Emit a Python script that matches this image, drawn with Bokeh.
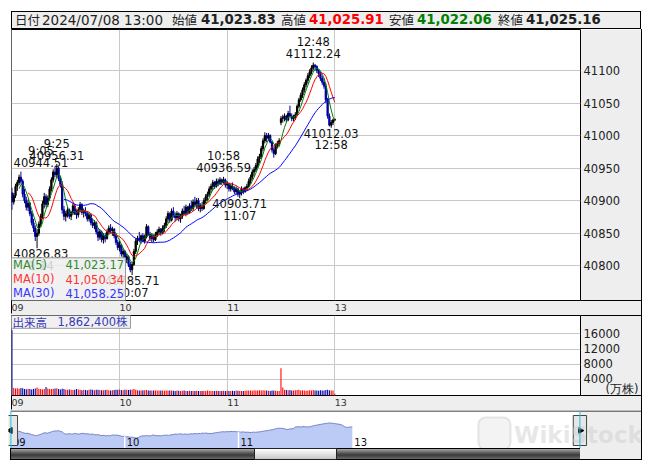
import numpy as np
import pandas as pd
from bokeh.plotting import figure
from bokeh.models import Range1d, FixedTicker, ColumnDataSource, BoxAnnotation, Span, Div
from bokeh.layouts import column, row
from bokeh.embed import file_html
from bokeh.resources import INLINE
from bokeh.core.properties import value

# ---------------- data ----------------
hour_ticks = [0, 60, 120, 180]          # trading-minute index of 09:00, 10:00, 11:00, 13:00
hour_labels = ["09", "10", "11", "13"]

opens = [40912, 40898, 40908, 40922, 40928, 40936, 40930, 40910, 40900, 40890,
         40896, 40880, 40866, 40858, 40845, 40850, 40864, 40876, 40895, 40906,
         40894, 40904, 40918, 40932, 40944, 40940, 40950, 40934, 40925, 40886,
         40876, 40880, 40886, 40876, 40882, 40892, 40880, 40878, 40886, 40894,
         40882, 40884, 40880, 40872, 40878, 40866, 40862, 40866, 40852, 40844,
         40852, 40840, 40846, 40842, 40852, 40858, 40854, 40856, 40846, 40836,
         40828, 40832, 40818, 40822, 40810, 40814, 40802, 40794, 40802, 40822,
         40838, 40842, 40840, 40846, 40838, 40844, 40860, 40848, 40842, 40846,
         40840, 40848, 40852, 40856, 40850, 40858, 40862, 40872, 40880, 40870,
         40884, 40878, 40874, 40880, 40872, 40876, 40884, 40880, 40890, 40882,
         40892, 40888, 40898, 40894, 40900, 40888, 40892, 40888, 40900, 40906,
         40910, 40918, 40922, 40928, 40922, 40930, 40926, 40932, 40928, 40932,
         40924, 40926, 40918, 40922, 40920, 40914, 40918, 40910, 40912, 40918,
         40914, 40920, 40922, 40930, 40936, 40944, 40948, 40954, 40964, 40968,
         40980, 40992, 41000, 40996, 41000, 40990, 40978, 40972, 40984, 40988,
         41020, 41026, 41028, 41030, 41024, 41034, 41030, 41026, 41028, 41032,
         41045, 41055, 41062, 41070, 41078, 41085, 41092, 41098, 41104, 41108,
         41106, 41100, 41095, 41088, 41082, 41076, 41055, 41030, 41016, 41020,
         41023.83]
highs = [40920, 40912, 40926, 40932, 40940, 40944.51, 40933, 40918, 40906, 40902,
         40898, 40884, 40872, 40862, 40856, 40868, 40880, 40900, 40912, 40910,
         40908, 40922, 40936, 40948, 40952, 40956.31, 40952, 40938, 40930, 40892,
         40884, 40890, 40888, 40884, 40896, 40895, 40886, 40890, 40898, 40896,
         40888, 40890, 40884, 40882, 40880, 40872, 40870, 40868, 40858, 40856,
         40854, 40850, 40850, 40856, 40862, 40864, 40860, 40858, 40850, 40840,
         40838, 40834, 40826, 40824, 40818, 40816, 40806, 40806, 40826, 40842,
         40846, 40852, 40848, 40850, 40848, 40864, 40862, 40852, 40850, 40848,
         40852, 40856, 40860, 40858, 40862, 40866, 40876, 40884, 40882, 40888,
         40890, 40882, 40884, 40882, 40880, 40888, 40892, 40894, 40892, 40896,
         40900, 40902, 40906, 40904, 40904, 40896, 40898, 40904, 40910, 40914,
         40922, 40926, 40932, 40930, 40934, 40934, 40936, 40934, 40936.59, 40934,
         40930, 40928, 40926, 40928, 40922, 40922, 40920, 40916, 40922, 40920,
         40922, 40926, 40934, 40940, 40948, 40952, 40958, 40968, 40972, 40984,
         40996, 41005, 41004, 41004, 41002, 40992, 40982, 40988, 40992, 40996,
         41030, 41032, 41034, 41032, 41038, 41046, 41034, 41032, 41036, 41048,
         41058, 41066, 41074, 41082, 41088, 41096, 41102, 41108, 41112.24, 41110,
         41108, 41102, 41098, 41092, 41088, 41080, 41058, 41034, 41024, 41026,
         41025.91]
lows = [40886, 40894, 40904, 40915, 40924, 40926, 40905, 40896, 40885, 40884,
        40876, 40862, 40852, 40838, 40826.83, 40846, 40860, 40872, 40888, 40890,
        40890, 40900, 40914, 40928, 40936, 40936, 40930, 40920, 40880, 40870,
        40868, 40874, 40872, 40870, 40878, 40878, 40872, 40874, 40882, 40878,
        40874, 40876, 40868, 40868, 40862, 40858, 40856, 40848, 40838, 40840,
        40836, 40834, 40836, 40840, 40848, 40850, 40846, 40842, 40832, 40824,
        40822, 40814, 40812, 40806, 40804, 40798, 40790, 40785.71, 40800, 40818,
        40832, 40836, 40834, 40836, 40834, 40842, 40846, 40838, 40836, 40836,
        40838, 40844, 40848, 40846, 40848, 40852, 40858, 40866, 40866, 40868,
        40874, 40868, 40870, 40868, 40866, 40872, 40878, 40876, 40878, 40880,
        40884, 40884, 40890, 40888, 40884, 40882, 40884, 40886, 40896, 40900,
        40906, 40912, 40916, 40918, 40920, 40922, 40924, 40924, 40926, 40920,
        40918, 40914, 40914, 40916, 40910, 40910, 40906, 40903.71, 40908, 40910,
        40912, 40916, 40920, 40926, 40932, 40938, 40944, 40950, 40958, 40964,
        40976, 40988, 40990, 40992, 40988, 40974, 40966, 40970, 40980, 40984,
        41016, 41020, 41022, 41020, 41022, 41028, 41022, 41022, 41024, 41030,
        41042, 41052, 41058, 41066, 41074, 41080, 41088, 41094, 41100, 41100,
        41096, 41090, 41084, 41078, 41072, 41050, 41026, 41014, 41012.03, 41016,
        41022.06]
closes = [40898, 40908, 40922, 40928, 40936, 40930, 40910, 40900, 40890, 40896,
          40880, 40866, 40858, 40845, 40850, 40864, 40876, 40895, 40906, 40894,
          40904, 40918, 40932, 40944, 40940, 40950, 40934, 40925, 40886, 40876,
          40880, 40886, 40876, 40882, 40892, 40880, 40878, 40886, 40894, 40882,
          40884, 40880, 40872, 40878, 40866, 40862, 40866, 40852, 40844, 40852,
          40840, 40846, 40842, 40852, 40858, 40854, 40856, 40846, 40836, 40828,
          40832, 40818, 40822, 40810, 40814, 40802, 40794, 40802, 40822, 40838,
          40842, 40840, 40846, 40838, 40844, 40860, 40848, 40842, 40846, 40840,
          40848, 40852, 40856, 40850, 40858, 40862, 40872, 40880, 40870, 40884,
          40878, 40874, 40880, 40872, 40876, 40884, 40880, 40890, 40882, 40892,
          40888, 40898, 40894, 40900, 40888, 40892, 40888, 40900, 40906, 40910,
          40918, 40922, 40928, 40922, 40930, 40926, 40932, 40928, 40932, 40924,
          40926, 40918, 40922, 40920, 40914, 40918, 40910, 40912, 40918, 40914,
          40920, 40922, 40930, 40936, 40944, 40948, 40954, 40964, 40968, 40980,
          40992, 41000, 40996, 41000, 40990, 40978, 40972, 40984, 40988, 40992,
          41026, 41028, 41030, 41024, 41034, 41030, 41026, 41028, 41032, 41045,
          41055, 41062, 41070, 41078, 41085, 41092, 41098, 41104, 41108, 41106,
          41100, 41095, 41088, 41082, 41076, 41055, 41030, 41016, 41020, 41024,
          41025.16]
volumes = [17000, 1700, 1550, 1650, 1500, 1700, 1600, 1400, 1350, 1500,
           1450, 1300, 1400, 1550, 1800, 1500, 1400, 1300, 1450, 1950,
           1550, 1450, 1400, 1500, 1550, 1650, 1400, 1300, 1500, 1400,
           1250, 1200, 1300, 1200, 1150, 1250, 1400, 1300, 1200, 1100,
           1200, 1150, 1100, 1250, 1300, 1200, 1100, 1200, 1250, 1150,
           1100, 1100, 1150, 1200, 1100, 1050, 1100, 1150, 1250, 1200,
           1300, 1150, 1100, 1200, 1250, 1150, 1250, 1300, 1400, 1200,
           1100, 1050, 1000, 1100, 1100, 1150, 1050, 1000, 1000, 1000,
           1000, 1000, 1050, 1000, 1000, 950, 1000, 1050, 1000, 1000,
           950, 900, 1000, 950, 900, 950, 1000, 900, 880, 950,
           900, 880, 900, 950, 900, 880, 900, 950, 900, 1000,
           950, 900, 880, 900, 950, 900, 880, 900, 950, 900,
           950, 900, 880, 950, 900, 1000, 950, 900, 880, 900,
           950, 1000, 1050, 1000, 950, 1100, 1000, 1050, 1100, 1000,
           1100, 1050, 1000, 950, 900, 1000, 1050, 950, 900, 880,
           6900, 1850, 1250, 1150, 1100, 1150, 1050, 1000, 1100, 1150,
           1200, 1050, 1100, 1000, 950, 1050, 1100, 1000, 1150, 1050,
           1000, 950, 1100, 1050, 1000, 1150, 1200, 1100, 1050, 1000,
           186.24]

price_ticks = [40800, 40850, 40900, 40950, 41000, 41050, 41100]
volume_ticks = [4000, 8000, 12000, 16000]

mark_idx = [5, 14, 25, 67, 118, 127, 168, 178]
mark_time = ["9:05", "9:14", "9:25", "10:07", "10:58", "11:07", "12:48", "12:58"]
mark_value = [40944.51, 40826.83, 40956.31, 40785.71, 40936.59, 40903.71, 41112.24, 41012.03]
mark_is_high = [True, False, True, False, True, False, True, False]

ma_windows = [5, 10, 30]
ma_names = ["MA(5)", "MA(10)", "MA(30)"]
ma_last = ["41,023.17", "41,050.34", "41,058.25"]

header_labels = ["日付", "始値", "高値", "安値", "終値"]
header_stamp = "2024/07/08 13:00"
header_values = ["41,023.83", "41,025.91", "41,022.06", "41,025.16"]
volume_title = "出来高"
volume_last = "1,862,400株"
volume_unit = "(万株)"
watermark = "WikiStock"

# ---------------- geometry / style ----------------
FONT = "DejaVu Sans"
JFONT = "DejaVu Sans, Noto Sans CJK JP"
GRAY = "#eeeeee"
GRID = "#c8c8c8"
UP_C, DN_C = "#000000", "#0000a0"
VUP_C, VDN_C = "#ff0000", "#0000a0"
MA_C = ["#008000", "#ff0000", "#0000ff"]
MA_TXT = ["#2e8b2e", "#ff3030", "#3535ff"]
FRAME_W, RIGHT_W = 569, 61
MAIN_H, BAND_H = 273, 13
VOL_H, VBAND_H = 81, 14
NAV_W, NAV_H = 633, 38
NB = "\u00a0"

XS = -0.25
XE = XS + FRAME_W / 1.7935
YS, YE = 40746.6, 41163.0
VYS, VYE = -300.0, 20900.0
XPX = FRAME_W / (XE - XS)
YPX = MAIN_H / (YE - YS)
VPX = VOL_H / (VYE - VYS)
UNIT_POS = VYS + 7 / VPX          # where the unit caption sits on the volume axis

x = np.arange(len(closes))
o = np.array(opens, float); h = np.array(highs, float)
l = np.array(lows, float); c = np.array(closes, float)
up = c >= o
src = ColumnDataSource(dict(
    x=x, h=h, l=l, c=c,
    top=np.maximum(o, c), bot=np.minimum(o, c),
    candle_color=np.where(up, UP_C, DN_C),
    vol_color=np.where(up, VUP_C, VDN_C),
    vol=np.array(volumes, float)))


def style_x_axis(fig, tick_out):
    ax = fig.xaxis[0]
    ax.ticker = FixedTicker(ticks=hour_ticks, minor_ticks=[XS])
    ax.major_label_overrides = {t: (s if t == hour_ticks[0] else NB * 4 + s)
                                for t, s in zip(hour_ticks, hour_labels)}
    ax.major_tick_out = 0
    ax.major_tick_in = 0
    ax.minor_tick_in = 0
    ax.minor_tick_out = tick_out
    ax.minor_tick_line_color = "black"
    ax.axis_line_color = None
    ax.major_label_standoff = -tick_out + 1
    ax.major_label_text_font = FONT
    ax.major_label_text_font_size = "9.5px"
    ax.major_label_text_color = "#333333"


def style_y_axis(fig, ticks, minors, overrides=None):
    ay = fig.yaxis[0]
    ay.ticker = FixedTicker(ticks=ticks, minor_ticks=minors)
    if overrides:
        ay.major_label_overrides = overrides
    ay.major_tick_out = 0
    ay.major_tick_in = 0
    ay.minor_tick_in = 0
    ay.minor_tick_out = RIGHT_W
    ay.minor_tick_line_color = "black"
    ay.axis_line_color = None
    ay.major_label_standoff = -RIGHT_W + 3
    ay.major_label_text_font = FONT
    ay.major_label_text_font_size = "11.5px"
    ay.major_label_text_color = "#222222"


# ---------------- header ----------------
hdr_runs = [
    (header_labels[0], 3, "'Noto Sans CJK JP'", "12.5px", "normal", "#222"),
    (header_stamp, 30, "'DejaVu Sans'", "13.5px", "normal", "#222"),
    (header_labels[1], 160, "'Noto Sans CJK JP'", "12.5px", "normal", "#222"),
    (header_values[0], 189, "'DejaVu Sans'", "13.3px", "bold", "#222"),
    (header_labels[2], 269, "'Noto Sans CJK JP'", "12.5px", "normal", "#222"),
    (header_values[1], 297, "'DejaVu Sans'", "13.3px", "bold", "#ff0000"),
    (header_labels[3], 377, "'Noto Sans CJK JP'", "12.5px", "normal", "#222"),
    (header_values[2], 405, "'DejaVu Sans'", "13.3px", "bold", "#008000"),
    (header_labels[4], 486, "'Noto Sans CJK JP'", "12.5px", "normal", "#222"),
    (header_values[3], 514, "'DejaVu Sans'", "13.3px", "bold", "#222"),
]
hdr_html = ('<div style="position:relative;box-sizing:border-box;width:630px;height:18px;'
            'border:1px solid #000;background:' + GRAY + ';overflow:hidden;">')
for t, lx, ff, fs, fw, col in hdr_runs:
    hdr_html += ('<span style="position:absolute;left:' + str(lx) + 'px;top:0;line-height:16px;'
                 'white-space:nowrap;font-family:' + ff + ';font-size:' + fs + ';font-weight:' + fw +
                 ';color:' + col + ';">' + t + '</span>')
hdr_html += '</div>'
header = Div(text=hdr_html, width=630, height=18, margin=(11, 0, 0, 11), sizing_mode="fixed")

# ---------------- main price chart ----------------
p = figure(width=FRAME_W + RIGHT_W, height=MAIN_H + BAND_H,
           x_range=Range1d(XS, XE), y_range=Range1d(YS, YE),
           y_axis_location="right", output_backend="svg", toolbar_location=None, tools="",
           min_border_left=0, min_border_right=RIGHT_W, min_border_top=0, min_border_bottom=BAND_H,
           border_fill_color=GRAY, background_fill_color="white",
           outline_line_color="black", margin=(0, 0, 0, 3), frame_align=False,
           sizing_mode="fixed")
style_x_axis(p, BAND_H)
style_y_axis(p, price_ticks, [YS])
p.grid.grid_line_color = GRID

p.segment(x0="x", y0="h", x1="x", y1="l", source=src, line_color="candle_color", line_width=1)
p.vbar(x="x", width=0.7, top="top", bottom="bot", source=src,
       fill_color="candle_color", line_color="candle_color", line_width=1)
for w, col in zip(ma_windows, MA_C):
    ma = pd.Series(closes).rolling(w).mean()
    p.line(x, ma.values, line_color=col, line_width=1)

# extreme-value marks
min_center = XS + 29.5 / XPX
mx = [max(i, min_center) for i in mark_idx]
mark_src = ColumnDataSource(dict(
    x=mx, y=mark_value,
    val=["%.2f" % v for v in mark_value], tm=mark_time,
    voff=[-9 if hi else 5.5 for hi in mark_is_high],
    toff=[-20.5 if hi else 17.5 for hi in mark_is_high]))
for fld, off in (("val", "voff"), ("tm", "toff")):
    p.text(x="x", y="y", text=fld, y_offset=off, source=mark_src,
           text_align="center", text_baseline="middle",
           text_font=value(FONT), text_font_size="11.5px", text_color="#111111")

# MA legend box
p.quad(left=XS, right=XS + 114 / XPX, bottom=YS, top=YS + 43 / YPX,
       fill_color=GRAY, fill_alpha=0.85, line_color="#9a9a9a")
leg_src = ColumnDataSource(dict(
    y=[YS + d / YPX for d in (36, 21.5, 7.5)],
    name=ma_names, val=ma_last, col=MA_TXT))
p.text(x=XS + 1.5 / XPX, y="y", text="name", text_color="col", source=leg_src,
       text_baseline="middle", text_font=value(FONT), text_font_size="11.5px")
p.text(x=XS + 54 / XPX, y="y", text="val", text_color="col", source=leg_src,
       text_baseline="middle", text_font=value(FONT), text_font_size="11.5px")

# ---------------- volume chart ----------------
v = figure(width=FRAME_W + RIGHT_W, height=VOL_H + VBAND_H,
           x_range=p.x_range, y_range=Range1d(VYS, VYE),
           y_axis_location="right", output_backend="svg", toolbar_location=None, tools="",
           min_border_left=0, min_border_right=RIGHT_W, min_border_top=0, min_border_bottom=VBAND_H,
           border_fill_color=GRAY, background_fill_color="white",
           outline_line_color="black", margin=(0, 0, 0, 3), frame_align=False,
           sizing_mode="fixed")
style_x_axis(v, VBAND_H)
style_y_axis(v, volume_ticks + [UNIT_POS], [VYS, VYE],
             overrides={UNIT_POS: NB * 6 + volume_unit})
v.ygrid.ticker = FixedTicker(ticks=volume_ticks)
v.grid.grid_line_color = GRID
v.vbar(x="x", width=0.6, top="vol", bottom=VYS, source=src,
       fill_color="vol_color", line_color=None)
v.quad(left=XS, right=XS + 119 / XPX, top=VYE, bottom=VYE - 13 / VPX,
       fill_color=GRAY, fill_alpha=0.9, line_color="#9a9a9a")
v.text(x=[XS + 1 / XPX], y=[VYE - 6.5 / VPX], text=[volume_title],
       text_baseline="middle", text_font=value("Noto Sans CJK JP"), text_font_size="11.5px",
       text_color="#3a3ab8")
v.text(x=[XS + 46 / XPX], y=[VYE - 6.5 / VPX], text=[volume_last],
       text_baseline="middle", text_font=value(JFONT), text_font_size="11.5px",
       text_color="#3a3ab8")

# ---------------- navigator ----------------
NXS = -2.4 / 1.8967
NXE = NXS + NAV_W / 1.8967
NYS, NYE = 40577.0, 41369.0
n = figure(width=NAV_W, height=NAV_H, x_range=Range1d(NXS, NXE), y_range=Range1d(NYS, NYE),
           x_axis_type=None, y_axis_type=None, output_backend="svg", toolbar_location=None,
           tools="", min_border=0, outline_line_color=None, background_fill_color="white",
           border_fill_color="white", margin=0, frame_align=False, sizing_mode="fixed")
n.grid.visible = False
n.extra_y_ranges = {"ui": Range1d(0, NAV_H)}
n.add_layout(BoxAnnotation(left=300, fill_color=GRAY, fill_alpha=1.0, line_color=None,
                           level="underlay"))
n.varea(x=x, y1=NYS, y2=c, fill_color="#bccaf6")
n.line(x, c, line_color="#7682c8", line_width=1)
sep = [t for t in hour_ticks[1:3]]
n.segment(x0=sep, x1=sep, y0=[NYS] * len(sep), y1=[closes[t] for t in sep],
          line_color="white", line_width=1.5)
n.text(x=hour_ticks, y=[6.5] * len(hour_ticks), text=hour_labels, x_offset=2,
       y_range_name="ui", text_baseline="middle", text_font=value(FONT),
       text_font_size="10px", text_color="#111111")
n.add_layout(Span(location=0, dimension="height", line_color="#22bfe0", line_width=1))
n.add_layout(Span(location=300, dimension="height", line_color="#22bfe0", line_width=1))
n.quad(left=[-3.5, 296.5], right=[3.5, 303.5], bottom=[3, 3], top=[33, 33], y_range_name="ui",
       fill_color="#e6e6e6", line_color="#444444")
n.scatter(x=[-0.3, 300.3], y=[18, 18], y_range_name="ui", marker="triangle",
          angle=[np.pi / 2, -np.pi / 2], size=6, fill_color="black", line_color="black")
n.segment(x0=[0], x1=[NXE], y0=[NAV_H - 0.5], y1=[NAV_H - 0.5], y_range_name="ui",
          line_color="black", line_width=1)
# faint watermark, drawn last
n.quad(left=[246.5], right=[263.4], bottom=[-1], top=[31], y_range_name="ui",
       border_radius=7, fill_color="#e2e2e2", fill_alpha=0.4,
       line_color="#d6d6d6", line_alpha=0.6, line_width=2)
n.text(x=[265.3], y=[14], text=[watermark], y_range_name="ui", text_baseline="middle",
       text_font=value(FONT), text_font_style="bold", text_font_size="23px",
       text_color="#cfcfcf", text_alpha=0.5)

# ---------------- scrollbar ----------------
scroll_html = (
    '<div style="position:relative;width:633px;height:12px;">'
    '<div style="position:absolute;left:2px;top:0;width:571px;height:12px;box-sizing:border-box;'
    'border:1px solid #000;background:linear-gradient(to bottom,#a8a8a8 0%,#5a5a5a 40%,#3a3a3a 60%,#6a6a6a 100%);"></div>'
    '<div style="position:absolute;left:246px;top:0;width:83px;height:12px;box-sizing:border-box;'
    'border:1px solid #222;background:linear-gradient(to bottom,#ffffff,#c8c8c8);"></div>'
    '<div style="position:absolute;left:572px;top:0;width:61px;height:12px;box-sizing:border-box;'
    'border-bottom:1px solid #000;background:' + GRAY + ';"></div>'
    '</div>')
scroll = Div(text=scroll_html, width=633, height=12, margin=0, sizing_mode="fixed")

edge = Div(text='<div style="width:1px;height:431px;background:#000;"></div>',
           width=1, height=431, margin=0, sizing_mode="fixed")

body = row(column(p, v, n, scroll, sizing_mode="fixed"), edge,
           margin=(0, 0, 0, 8), sizing_mode="fixed")
layout = column(header, body, sizing_mode="fixed")
open("out.html", "w").write(file_html(layout, INLINE))
